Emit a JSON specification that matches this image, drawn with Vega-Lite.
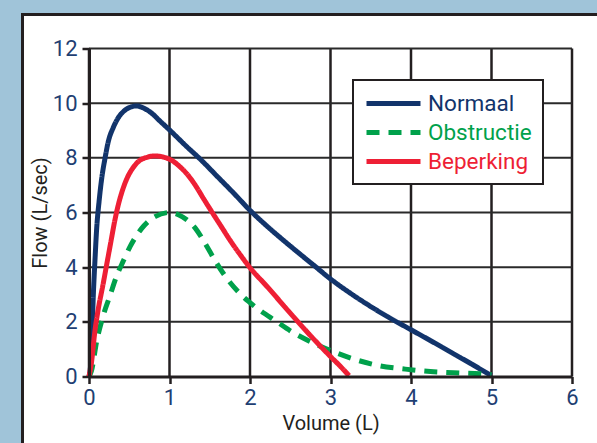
{
  "$schema": "https://vega.github.io/schema/vega-lite/v6.json",
  "width": 483,
  "height": 328,
  "autosize": {"type": "none"},
  "padding": {"left": 89, "top": 48.5, "right": 25, "bottom": 66.5},
  "background": "#a0c4d9",
  "datasets": {
    "panel": [{"name": "panel"}],
    "gridx": [{"v": 0}, {"v": 1}, {"v": 2}, {"v": 3}, {"v": 4}, {"v": 5}, {"v": 6}],
    "gridy": [{"v": 2}, {"v": 4}, {"v": 6}, {"v": 8}, {"v": 10}, {"v": 12}],
    "curves": [
      {"series": "Normaal", "vol": 0, "flow": 0},
      {"series": "Normaal", "vol": 0.025, "flow": 0.6},
      {"series": "Normaal", "vol": 0.04, "flow": 1.8},
      {"series": "Normaal", "vol": 0.054, "flow": 3.0},
      {"series": "Normaal", "vol": 0.075, "flow": 4.3},
      {"series": "Normaal", "vol": 0.095, "flow": 5.4},
      {"series": "Normaal", "vol": 0.125, "flow": 6.4},
      {"series": "Normaal", "vol": 0.158, "flow": 7.25},
      {"series": "Normaal", "vol": 0.2, "flow": 8.0},
      {"series": "Normaal", "vol": 0.24, "flow": 8.6},
      {"series": "Normaal", "vol": 0.3, "flow": 9.1},
      {"series": "Normaal", "vol": 0.36, "flow": 9.45},
      {"series": "Normaal", "vol": 0.45, "flow": 9.75},
      {"series": "Normaal", "vol": 0.52, "flow": 9.86},
      {"series": "Normaal", "vol": 0.59, "flow": 9.9},
      {"series": "Normaal", "vol": 0.67, "flow": 9.83},
      {"series": "Normaal", "vol": 0.78, "flow": 9.63},
      {"series": "Normaal", "vol": 0.88, "flow": 9.35},
      {"series": "Normaal", "vol": 0.99, "flow": 9.05},
      {"series": "Normaal", "vol": 1.2, "flow": 8.45},
      {"series": "Normaal", "vol": 1.4, "flow": 7.9},
      {"series": "Normaal", "vol": 1.6, "flow": 7.3},
      {"series": "Normaal", "vol": 1.8, "flow": 6.7},
      {"series": "Normaal", "vol": 2.0, "flow": 6.08},
      {"series": "Normaal", "vol": 2.2, "flow": 5.53},
      {"series": "Normaal", "vol": 2.4, "flow": 5.02},
      {"series": "Normaal", "vol": 2.6, "flow": 4.53},
      {"series": "Normaal", "vol": 2.8, "flow": 4.05},
      {"series": "Normaal", "vol": 3.0, "flow": 3.57},
      {"series": "Normaal", "vol": 3.25, "flow": 3.04},
      {"series": "Normaal", "vol": 3.5, "flow": 2.56},
      {"series": "Normaal", "vol": 3.75, "flow": 2.12},
      {"series": "Normaal", "vol": 4.0, "flow": 1.71},
      {"series": "Normaal", "vol": 4.25, "flow": 1.3},
      {"series": "Normaal", "vol": 4.5, "flow": 0.88},
      {"series": "Normaal", "vol": 4.75, "flow": 0.46},
      {"series": "Normaal", "vol": 5.0, "flow": 0.03},
      {"series": "Obstructie", "vol": 0, "flow": 0},
      {"series": "Obstructie", "vol": 0.03, "flow": 0.2},
      {"series": "Obstructie", "vol": 0.095, "flow": 1.28},
      {"series": "Obstructie", "vol": 0.18, "flow": 2.26},
      {"series": "Obstructie", "vol": 0.26, "flow": 2.95},
      {"series": "Obstructie", "vol": 0.34, "flow": 3.65},
      {"series": "Obstructie", "vol": 0.43, "flow": 4.25},
      {"series": "Obstructie", "vol": 0.51, "flow": 4.75},
      {"series": "Obstructie", "vol": 0.65, "flow": 5.4},
      {"series": "Obstructie", "vol": 0.82, "flow": 5.85},
      {"series": "Obstructie", "vol": 1.0, "flow": 6.0},
      {"series": "Obstructie", "vol": 1.11, "flow": 5.92},
      {"series": "Obstructie", "vol": 1.22, "flow": 5.72},
      {"series": "Obstructie", "vol": 1.32, "flow": 5.43},
      {"series": "Obstructie", "vol": 1.44, "flow": 4.88},
      {"series": "Obstructie", "vol": 1.57, "flow": 4.22},
      {"series": "Obstructie", "vol": 1.71, "flow": 3.6},
      {"series": "Obstructie", "vol": 1.88, "flow": 3.02},
      {"series": "Obstructie", "vol": 2.06, "flow": 2.56},
      {"series": "Obstructie", "vol": 2.33, "flow": 2.01},
      {"series": "Obstructie", "vol": 2.54, "flow": 1.6},
      {"series": "Obstructie", "vol": 2.79, "flow": 1.22},
      {"series": "Obstructie", "vol": 3.06, "flow": 0.88},
      {"series": "Obstructie", "vol": 3.33, "flow": 0.6},
      {"series": "Obstructie", "vol": 3.61, "flow": 0.39},
      {"series": "Obstructie", "vol": 3.93, "flow": 0.27},
      {"series": "Obstructie", "vol": 4.24, "flow": 0.18},
      {"series": "Obstructie", "vol": 4.53, "flow": 0.14},
      {"series": "Obstructie", "vol": 4.86, "flow": 0.1},
      {"series": "Obstructie", "vol": 5.0, "flow": 0.07},
      {"series": "Beperking", "vol": 0, "flow": 0},
      {"series": "Beperking", "vol": 0.03, "flow": 0.5},
      {"series": "Beperking", "vol": 0.075, "flow": 1.7},
      {"series": "Beperking", "vol": 0.12, "flow": 2.55},
      {"series": "Beperking", "vol": 0.17, "flow": 3.3},
      {"series": "Beperking", "vol": 0.22, "flow": 4.1},
      {"series": "Beperking", "vol": 0.27, "flow": 4.9},
      {"series": "Beperking", "vol": 0.32, "flow": 5.7},
      {"series": "Beperking", "vol": 0.37, "flow": 6.35},
      {"series": "Beperking", "vol": 0.42, "flow": 6.85},
      {"series": "Beperking", "vol": 0.48, "flow": 7.3},
      {"series": "Beperking", "vol": 0.55, "flow": 7.65},
      {"series": "Beperking", "vol": 0.62, "flow": 7.88},
      {"series": "Beperking", "vol": 0.72, "flow": 8.02},
      {"series": "Beperking", "vol": 0.82, "flow": 8.07},
      {"series": "Beperking", "vol": 0.92, "flow": 8.03},
      {"series": "Beperking", "vol": 1.02, "flow": 7.92},
      {"series": "Beperking", "vol": 1.12, "flow": 7.7},
      {"series": "Beperking", "vol": 1.22, "flow": 7.4},
      {"series": "Beperking", "vol": 1.32, "flow": 7.0},
      {"series": "Beperking", "vol": 1.42, "flow": 6.52},
      {"series": "Beperking", "vol": 1.52, "flow": 6.05},
      {"series": "Beperking", "vol": 1.64, "flow": 5.5},
      {"series": "Beperking", "vol": 1.76, "flow": 4.95},
      {"series": "Beperking", "vol": 1.88, "flow": 4.45},
      {"series": "Beperking", "vol": 2.0, "flow": 3.98},
      {"series": "Beperking", "vol": 2.2, "flow": 3.33},
      {"series": "Beperking", "vol": 2.5, "flow": 2.32},
      {"series": "Beperking", "vol": 2.75, "flow": 1.5},
      {"series": "Beperking", "vol": 3.0, "flow": 0.73},
      {"series": "Beperking", "vol": 3.12, "flow": 0.38},
      {"series": "Beperking", "vol": 3.23, "flow": 0.03}
    ]
  },
  "layer": [
    {
      "data": {"name": "panel"},
      "mark": {"type": "rect", "fill": "white", "stroke": "#231f20", "strokeWidth": 3},
      "encoding": {
        "x": {"datum": -0.826, "type": "quantitative", "scale": {"domain": [0, 6]}, "title": "Volume (L)", "axis": {"zindex": 1, "values": [0, 1, 2, 3, 4, 5, 6]}},
        "x2": {"datum": 6.8},
        "y": {"datum": 13.24, "type": "quantitative", "scale": {"domain": [0, 12]}, "title": "Flow (L/sec)", "axis": {"zindex": 1, "values": [0, 2, 4, 6, 8, 10, 12]}},
        "y2": {"datum": -2.9}
      }
    },
    {
      "data": {"name": "gridx"},
      "mark": {"type": "rule", "stroke": "#231f20", "strokeWidth": 2.5},
      "encoding": {
        "x": {"field": "v", "type": "quantitative", "scale": {"domain": [0, 6]}, "title": "Volume (L)", "axis": {"zindex": 1, "values": [0, 1, 2, 3, 4, 5, 6]}}
      }
    },
    {
      "data": {"name": "gridy"},
      "mark": {"type": "rule", "stroke": "#2a2a2a", "strokeWidth": 2},
      "encoding": {
        "y": {"field": "v", "type": "quantitative", "scale": {"domain": [0, 12]}, "title": "Flow (L/sec)", "axis": {"zindex": 1, "values": [0, 2, 4, 6, 8, 10, 12]}}
      }
    },
    {
      "data": {"name": "curves"},
      "mark": {"type": "line", "strokeWidth": 5, "interpolate": "monotone", "strokeCap": "butt"},
      "encoding": {
        "x": {"field": "vol", "type": "quantitative", "scale": {"domain": [0, 6]}, "title": "Volume (L)", "axis": {"zindex": 1, "values": [0, 1, 2, 3, 4, 5, 6]}},
        "y": {"field": "flow", "type": "quantitative", "scale": {"domain": [0, 12]}, "title": "Flow (L/sec)", "axis": {"zindex": 1, "values": [0, 2, 4, 6, 8, 10, 12]}},
        "color": {
          "field": "series", "type": "nominal",
          "scale": {"domain": ["Normaal", "Obstructie", "Beperking"], "range": ["#12346b", "#00a14b", "#ee1f35"]},
          "legend": {
            "title": null, "orient": "none", "legendX": 264, "legendY": 31.5,
            "padding": 11, "strokeColor": "#231f20", "fillColor": "white",
            "symbolType": "M-1,0H4.4", "symbolSize": 400, "symbolStrokeWidth": 5,
            "labelFont": "Roboto", "labelFontSize": 22.5, "labelOffset": 39,
            "rowPadding": 5, "labelLimit": 300,
            "encode": {
              "labels": {"update": {"fill": {"scale": "color", "field": "value"}}},
              "legend": {"update": {"strokeWidth": {"value": 2}}}
            }
          }
        },
        "strokeDash": {
          "field": "series", "type": "nominal",
          "scale": {"domain": ["Normaal", "Obstructie", "Beperking"], "range": [[1, 0], [13, 9], [1, 0]]},
          "legend": {
            "title": null, "orient": "none", "legendX": 264, "legendY": 31.5,
            "padding": 11, "strokeColor": "#231f20", "fillColor": "white",
            "symbolType": "M-1,0H4.4", "symbolSize": 400, "symbolStrokeWidth": 5,
            "labelFont": "Roboto", "labelFontSize": 22.5, "labelOffset": 39,
            "rowPadding": 5, "labelLimit": 300,
            "encode": {
              "labels": {"update": {"fill": {"scale": "color", "field": "value"}}},
              "legend": {"update": {"strokeWidth": {"value": 2}}}
            }
          }
        }
      }
    }
  ],
  "config": {
    "view": {"stroke": null},
    "axis": {
      "grid": false,
      "domainColor": "#231f20",
      "domainWidth": 3,
      "tickColor": "#231f20",
      "tickWidth": 2.5,
      "tickSize": 7,
      "labelFont": "Roboto",
      "labelFontSize": 22,
      "labelColor": "#1f3f73",
      "titleFont": "Roboto",
      "titleFontSize": 20,
      "titleFontWeight": "normal",
      "titleColor": "#231f20"
    },
    "axisX": {"labelPadding": 4, "titlePadding": 5, "labelFlush": false},
    "axisY": {"labelPadding": 5, "titlePadding": 2}
  }
}
